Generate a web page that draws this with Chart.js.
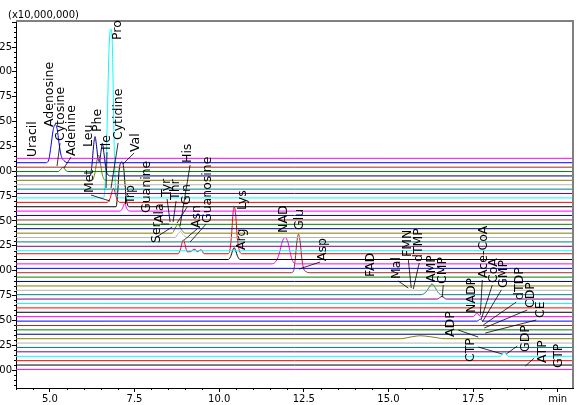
<!DOCTYPE html>
<html>
<head>
<meta charset="utf-8">
<script src="https://cdn.jsdelivr.net/npm/chart.js@4.4.0/dist/chart.umd.min.js"></script>
<style>
  html, body { margin: 0; padding: 0; background: #fff; overflow: hidden; }
  #wrap { position: relative; width: 578px; height: 405px; overflow: hidden; }
  #chart { position: absolute; left: -30px; top: 0; }
</style>
</head>
<body>
<div id="wrap"><canvas id="chart" width="608" height="405"></canvas></div>
<script>
// Baseline level of each of the 49 stacked traces, top to bottom (x10,000,000)
const baselines = [
  2.130, 2.086, 2.041, 1.997, 1.953, 1.909, 1.864, 1.820, 1.776, 1.732, 1.687, 1.643,
  1.599, 1.555, 1.510, 1.466, 1.422, 1.377, 1.333, 1.289, 1.245, 1.200, 1.170, 1.112,
  1.068, 1.023, 0.979, 0.935, 0.891, 0.846, 0.802, 0.758, 0.714, 0.669, 0.625, 0.581,
  0.537, 0.492, 0.448, 0.404, 0.360, 0.315, 0.271, 0.227, 0.183, 0.138, 0.094, 0.050, 0.006
];

// Peaks: which trace, retention times (min) and height above that trace's baseline
const peakTrace = [1, 3, 4, 5, 9, 10, 11, 12, 17, 18, 22, 22, 23, 24, 26, 31, 32, 36, 37, 41, 45];
const peakTimes = [
  [4.887, 4.975, 5.034, 5.093, 5.152, 5.212, 5.271, 5.330, 5.418, 5.537],
  [5.241, 5.330, 5.389, 5.448, 5.537],
  [6.187, 6.246, 6.290, 6.335, 6.379, 6.423, 6.462, 6.512, 6.550, 6.600, 6.660, 6.719, 6.807],
  [6.246, 6.335, 6.394, 6.438, 6.482, 6.541, 6.630],
  [6.571, 6.615, 6.660, 6.704, 6.748, 6.793, 6.837, 6.866, 6.896, 6.926, 6.970, 7.044],
  [6.689, 6.778, 6.837, 6.875, 6.926, 6.985, 7.073],
  [6.955, 6.999, 7.044, 7.088, 7.132, 7.177, 7.221, 7.266, 7.340],
  [7.073, 7.147, 7.206, 7.266, 7.340],
  [8.610, 8.699, 8.787, 8.876, 8.994],
  [8.699, 8.787, 8.861, 8.935, 9.053],
  [8.787, 8.861, 8.905, 8.944, 8.994, 9.053, 9.142, 9.230, 9.290, 9.349, 9.408, 9.467, 9.556],
  [10.264, 10.324, 10.368, 10.413, 10.451, 10.486, 10.531, 10.590, 10.678],
  [10.264, 10.339, 10.398, 10.442, 10.486, 10.546, 10.619],
  [11.565, 11.683, 11.772, 11.861, 11.949, 12.038, 12.112, 12.186, 12.304],
  [12.127, 12.200, 12.245, 12.295, 12.342, 12.392, 12.443, 12.496, 12.570, 12.659],
  [15.968, 16.086, 16.175, 16.284, 16.382, 16.470, 16.559],
  [16.441, 16.580, 16.707],
  [17.505, 17.614, 17.712],
  [17.620, 17.710, 17.800],
  [15.348, 15.702, 15.939, 16.234, 16.677],
  [18.303, 18.421, 18.539]
];
const peakHeights = [
  [0, 0.04, 0.17, 0.32, 0.385, 0.345, 0.195, 0.075, 0.02, 0],
  [0, 0.025, 0.045, 0.02, 0],
  [0, 0.12, 0.30, 0.396, 0.30, 0.17, 0.143, 0.25, 0.328, 0.22, 0.06, 0.01, 0],
  [0, 0.08, 0.21, 0.255, 0.20, 0.07, 0],
  [0, 0.05, 0.35, 0.90, 1.50, 1.70, 1.62, 1.20, 0.60, 0.20, 0.04, 0],
  [0, 0.04, 0.11, 0.141, 0.10, 0.03, 0],
  [0, 0.12, 0.36, 0.44, 0.45, 0.40, 0.22, 0.06, 0],
  [0, 0.03, 0.076, 0.03, 0],
  [0, 0.05, 0.09, 0.04, 0],
  [0, 0.04, 0.06, 0.03, 0],
  [0, 0.05, 0.11, 0.14, 0.09, 0.02, 0.02, 0.04, 0.045, 0.02, 0.03, 0.04, 0],
  [0, 0.05, 0.20, 0.42, 0.47, 0.40, 0.18, 0.04, 0],
  [0, 0.03, 0.09, 0.12, 0.09, 0.03, 0],
  [0, 0.03, 0.10, 0.22, 0.268, 0.21, 0.09, 0.02, 0],
  [0, 0.02, 0.13, 0.31, 0.389, 0.31, 0.14, 0.04, 0.01, 0],
  [0, 0.02, 0.06, 0.108, 0.07, 0.02, 0],
  [0, 0.026, 0],
  [0, 0.037, 0],
  [0, 0.02, 0],
  [0, 0.02, 0.03, 0.02, 0],
  [0, 0.045, 0]
];

// Compound labels: anchor = bottom of rotated text (time, level)
const labelNames = ['Uracil', 'Adenosine', 'Cytosine', 'Adenine', 'Leu', 'Phe', 'Ile', 'Cytidine', 'Val', 'Met',
  'Pro', 'Trp', 'Guanine', 'Ser', 'Ala', 'Tyr', 'Thr', 'Gln', 'His', 'Asn', 'Guanosine', 'Lys', 'Arg',
  'NAD', 'Glu', 'Asp', 'FAD', 'Mal', 'FMN', 'dTMP', 'AMP', 'CMP', 'NADP', 'Ace-CoA', 'CoA', 'GMP',
  'dTDP', 'CDP', 'CE', 'ADP', 'CTP', 'GDP', 'ATP', 'GTP'];
const labelTimes = [4.502, 5.005, 5.330, 5.655, 6.157, 6.423, 6.689, 7.044, 7.546, 6.187,
  7.014, 7.398, 7.871, 8.167, 8.255, 8.462, 8.728, 9.053, 9.083, 9.349, 9.674, 10.708, 10.678,
  11.920, 12.392, 13.072, 14.491, 15.259, 15.584, 15.880, 16.293, 16.618, 17.446, 17.800, 18.096, 18.391,
  18.864, 19.189, 19.485, 16.825, 17.416, 19.041, 19.544, 20.017];
const labelLevels = [2.143, 2.445, 2.304, 2.153, 2.244, 2.395, 2.214, 2.314, 2.194, 1.780,
  3.321, 1.670, 1.580, 1.278, 1.479, 1.741, 1.711, 1.660, 2.083, 1.429, 1.479, 1.610, 1.208,
  1.379, 1.409, 1.097, 0.936, 0.916, 1.137, 1.087, 0.885, 0.865, 0.574, 0.926, 0.875, 0.825,
  0.704, 0.624, 0.523, 0.332, 0.080, 0.181, 0.070, 0.020];

// Leader lines from label to peak: [time, level] pairs
const leaderFrom = [[5.300, 2.284], [5.625, 2.143], [7.014, 2.284], [7.487, 2.184], [6.216, 1.761],
  [6.689, 2.193], [8.285, 1.469], [8.462, 1.721], [8.728, 1.701], [9.053, 1.640], [9.142, 2.063],
  [8.196, 1.348], [9.349, 1.419], [9.615, 1.469], [12.983, 1.087], [15.288, 0.896], [15.584, 1.117],
  [15.909, 1.077], [16.618, 0.855], [17.771, 0.906], [18.066, 0.855], [18.332, 0.805], [18.775, 0.684],
  [19.101, 0.604], [19.366, 0.503], [17.062, 0.402], [17.652, 0.231], [18.805, 0.241], [19.307, 0.121]];
const leaderTo = [[5.212, 2.053], [5.418, 2.033], [6.807, 1.831], [7.162, 2.073], [6.778, 1.700],
  [6.660, 1.831], [8.521, 1.469], [8.551, 1.489], [8.639, 1.489], [8.758, 1.479], [8.846, 1.449],
  [8.610, 1.439], [8.965, 1.308], [9.142, 1.288], [12.363, 1.016], [15.584, 0.825], [15.673, 0.825],
  [15.732, 0.815], [16.589, 0.735], [17.712, 0.553], [17.741, 0.513], [17.771, 0.483], [17.800, 0.453],
  [17.830, 0.423], [17.859, 0.372], [17.652, 0.332], [18.362, 0.161], [18.480, 0.161], [19.041, 0.040]];

const palette = ['#ff00ff', '#0000ff', '#a52a2a', '#008000', '#000080', '#808000',
                 '#b4b4b4', '#008080', '#800080', '#00ffff', '#ff0000', '#000000'];
const tStart = 4.0, tEnd = 20.45;

function buildTrace(i) {
  const extra = [];
  peakTrace.forEach((tr, k) => {
    if (tr !== i) return;
    peakTimes[k].forEach((t, j) => extra.push({ x: t, y: baselines[i] + peakHeights[k][j] }));
  });
  extra.sort((a, b) => a.x - b.x);
  return [{ x: tStart, y: baselines[i] }].concat(extra, [{ x: tEnd, y: baselines[i] }]);
}

const datasets = baselines.map((b, i) => ({
  data: buildTrace(i),
  borderColor: palette[i % palette.length],
  borderWidth: 1,
  pointRadius: 0,
  fill: false,
  cubicInterpolationMode: 'monotone'
}));

// frame, minor ticks, unit, compound labels
const decorations = {
  id: 'decorations',
  afterDraw(chart) {
    const ctx = chart.ctx;
    const { left, right, top, bottom } = chart.chartArea;
    const xs = chart.scales.x, ys = chart.scales.y;
    ctx.save();

    ctx.strokeStyle = '#808080';
    ctx.lineWidth = 2;
    ctx.beginPath();
    ctx.moveTo(left, top);
    ctx.lineTo(right, top);
    ctx.lineTo(right, bottom);
    ctx.stroke();

    ctx.strokeStyle = '#000';
    ctx.lineWidth = 1;
    ctx.beginPath();
    for (let k = -3; k <= 70; k++) {
      if (k % 5 === 0) continue;
      const y = Math.round(ys.getPixelForValue(k * 0.05)) + 0.5;
      if (y < top || y > bottom) continue;
      ctx.moveTo(left - 2, y);
      ctx.lineTo(left, y);
    }
    for (let k = 8; k <= 40; k++) {
      if (k % 5 === 0) continue;
      const x = Math.round(xs.getPixelForValue(k * 0.5)) + 0.5;
      if (x < left || x > right) continue;
      ctx.moveTo(x, bottom);
      ctx.lineTo(x, bottom + 2);
    }
    ctx.stroke();

    ctx.fillStyle = '#000';
    ctx.font = '10px "DejaVu Sans"';
    ctx.textAlign = 'left';
    ctx.textBaseline = 'alphabetic';
    ctx.fillText('(x10,000,000)', 38, 18);

    ctx.lineWidth = 0.8;
    ctx.beginPath();
    leaderFrom.forEach((p, i) => {
      ctx.moveTo(xs.getPixelForValue(p[0]), ys.getPixelForValue(p[1]));
      ctx.lineTo(xs.getPixelForValue(leaderTo[i][0]), ys.getPixelForValue(leaderTo[i][1]));
    });
    ctx.stroke();

    ctx.font = '12.5px "DejaVu Sans"';
    ctx.textBaseline = 'middle';
    labelNames.forEach((name, i) => {
      ctx.save();
      ctx.translate(xs.getPixelForValue(labelTimes[i]), ys.getPixelForValue(labelLevels[i]));
      ctx.rotate(-Math.PI / 2);
      ctx.fillText(name, 0, 0);
      ctx.restore();
    });
    ctx.restore();
  }
};

new Chart(document.getElementById('chart'), {
  type: 'line',
  data: { datasets },
  plugins: [decorations],
  options: {
    responsive: false,
    animation: false,
    devicePixelRatio: 1,
    layout: { padding: { top: 21, right: 5, left: 0, bottom: 0 } },
    plugins: { legend: { display: false }, tooltip: { enabled: false } },
    scales: {
      x: {
        type: 'linear',
        min: tStart,
        max: tEnd,
        ticks: {
          stepSize: 2.5, includeBounds: false, autoSkip: false, maxRotation: 0, padding: 1,
          color: '#000', font: { family: 'DejaVu Sans', size: 10 },
          callback: v => (v === 20 ? 'min' : v.toFixed(1))
        },
        grid: { drawOnChartArea: false, tickLength: 4, color: '#000' },
        border: { color: '#000', width: 1 },
        afterFit: s => { s.height = 17; }
      },
      y: {
        type: 'linear',
        min: -0.181,
        max: 3.512,
        ticks: {
          stepSize: 0.25, includeBounds: false, autoSkip: false, padding: 0,
          color: '#000', font: { family: 'DejaVu Sans', size: 10 },
          callback: v => (v > 3.4 ? '' : v.toFixed(2))
        },
        grid: { drawOnChartArea: false, tickLength: 4, color: '#000' },
        border: { color: '#000', width: 1 },
        afterFit: s => { s.width = 46; }
      }
    }
  }
});
</script>
</body>
</html>
